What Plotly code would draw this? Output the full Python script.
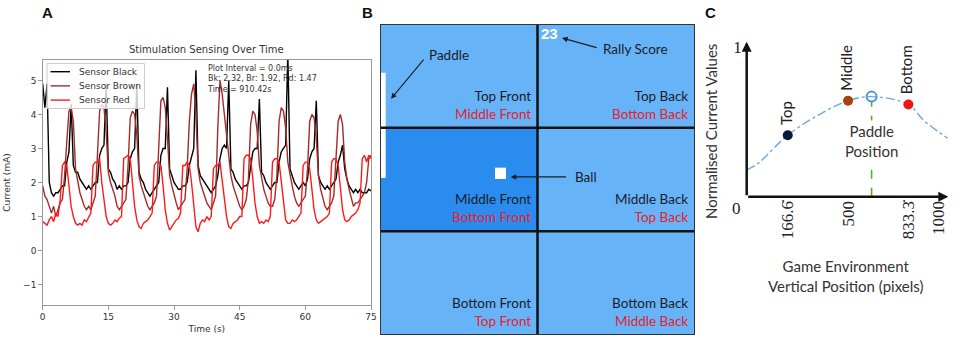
import plotly.graph_objects as go

# ---------------- Panel A data (0.5 s sampling) ----------------
sample_step = 0.5
time_s = [i * sample_step for i in range(151)]

sensor_black = [
    4.9, 4.2, 4.9, 2.0, 1.7, 1.6, 1.7,
    1.7, 1.8, 1.9, 1.9, 2.6, 2.9, 4.3, 2.5, 2.3, 2.3, 2.1, 2.0, 1.9, 1.8, 1.9,
    1.8, 1.9, 2.0, 2.0, 2.8, 3.0, 3.1, 4.9, 2.4, 2.3, 2.1, 2.0, 1.8, 1.9,
    1.8, 1.9, 1.9, 2.0, 2.7, 2.9, 3.0, 4.9, 2.3, 2.1, 2.0, 1.8, 1.7,
    1.6, 1.7, 1.8, 1.9, 2.0, 2.8, 3.0, 3.0, 4.8, 2.4, 2.2, 2.0, 1.9, 1.8,
    1.8, 1.9, 1.9, 2.0, 2.5, 2.8, 3.0, 5.3, 2.5, 2.2, 2.1, 2.0, 1.9, 1.8,
    1.7, 1.8, 1.9, 2.2, 2.7, 3.0, 3.1, 3.0, 5.0, 2.4, 2.3, 2.1, 2.0, 1.9,
    1.8, 1.9, 1.9, 2.0, 2.5, 2.9, 3.0, 3.0, 4.45, 2.3, 2.2, 2.0, 1.9,
    1.8, 1.9, 2.0, 2.0, 2.6, 2.9, 3.0, 3.1, 5.8, 2.4, 2.2, 2.0, 1.9,
    1.8, 1.9, 2.0, 1.9, 2.1, 2.7, 2.9, 3.0, 4.4, 2.2, 2.0, 1.9, 1.8,
    1.9, 1.8, 1.9, 2.0, 2.1, 2.6, 2.8, 3.1, 2.4, 2.1, 1.9, 1.8, 1.7, 1.8,
    1.7, 1.8, 1.7, 1.7, 1.7, 1.8, 1.75,
]
sensor_brown = [
    1.9, 1.6, 1.5, 1.3, 1.1, 1.3, 1.0,
    1.2, 1.4, 1.5, 2.2, 3.2, 4.1, 4.2, 3.8, 2.4, 2.0, 1.7, 1.5, 1.3, 1.2, 1.3,
    1.2, 1.4, 1.6, 2.8, 4.1, 4.3, 4.2, 3.5, 2.3, 2.0, 1.8, 1.6, 1.3, 1.2,
    1.3, 1.4, 1.5, 2.5, 3.9, 4.1, 4.0, 3.4, 2.2, 1.9, 1.7, 1.5, 1.3,
    1.2, 1.3, 1.4, 1.6, 2.9, 4.4, 4.5, 4.2, 3.3, 2.2, 1.9, 1.6, 1.4, 1.2,
    1.3, 1.4, 1.5, 2.4, 3.8, 4.6, 4.9, 4.0, 2.4, 2.0, 1.8, 1.6, 1.4, 1.3,
    1.2, 1.4, 1.6, 3.6, 5.0, 4.6, 4.0, 3.4, 2.6, 2.2, 1.9, 1.7, 1.5, 1.3,
    1.2, 1.3, 1.5, 2.1, 3.7, 4.1, 4.0, 3.5, 2.5, 2.1, 1.8, 1.6, 1.4,
    1.3, 1.3, 1.5, 2.2, 3.8, 4.2, 4.1, 3.6, 2.6, 2.2, 1.9, 1.6, 1.4,
    1.3, 1.4, 1.5, 1.6, 2.4, 3.8, 4.0, 3.9, 3.3, 2.2, 1.8, 1.5, 1.3,
    1.2, 1.3, 1.4, 1.6, 2.6, 3.8, 4.0, 3.7, 2.6, 2.1, 1.8, 1.5, 1.3, 1.4,
    1.4, 1.5, 1.6, 1.7, 2.0, 2.7, 2.8,
]
sensor_red = [
    0.85, 0.8, 0.75, 0.9, 1.0, 0.85, 1.1,
    1.0, 1.5, 2.5, 2.6, 2.5, 1.9, 1.3, 1.0, 0.8, 0.75, 0.8, 0.75, 0.9, 0.85, 1.0,
    1.1, 2.5, 2.6, 2.6, 2.7, 2.0, 1.4, 1.0, 0.8, 0.75, 0.8, 0.9, 0.85, 0.95,
    1.0, 2.7, 2.75, 2.8, 2.7, 2.0, 1.3, 0.9, 0.7, 0.65, 0.8, 0.85, 0.9,
    1.0, 1.1, 2.5, 2.6, 2.6, 2.5, 1.9, 1.2, 0.8, 0.6, 0.7, 0.8, 0.9, 0.95,
    1.1, 2.5, 2.5, 2.6, 2.5, 2.0, 1.3, 0.7, 0.55, 0.8, 0.9, 0.85, 1.0, 0.9,
    1.0, 2.4, 2.5, 2.5, 2.6, 2.0, 1.4, 1.0, 0.7, 0.65, 0.8, 0.85, 0.9, 1.0,
    1.0, 2.7, 2.8, 2.8, 2.7, 2.1, 1.4, 1.0, 0.8, 0.85, 0.8, 0.9, 0.85,
    1.0, 2.6, 2.7, 2.7, 2.6, 2.0, 1.3, 0.9, 0.8, 0.8, 0.9, 0.85, 0.9,
    1.0, 1.1, 2.5, 2.6, 2.6, 2.4, 1.8, 1.2, 0.9, 0.8, 0.85, 0.9, 0.95,
    1.0, 1.1, 2.6, 2.7, 2.7, 2.5, 1.8, 1.2, 0.9, 0.85, 0.9, 1.0, 1.05, 1.1,
    1.2, 1.4, 2.7, 2.8, 2.6, 2.8, 2.7,
]
series_names = ["Sensor Black", "Sensor Brown", "Sensor Red"]
series_colors = ["#000000", "#a52a2a", "#ff1a1a"]
a_xticks = [0, 15, 30, 45, 60, 75]
a_yticks = [-1, 0, 1, 2, 3, 4, 5]
info_lines = ["Plot Interval = 0.0ms", "Bk: 2.32, Br: 1.92, Rd: 1.47", "Time = 910.42s"]

# ---------------- Panel B data ----------------
row_names = ["Top", "Middle", "Bottom"]
col_names = ["Front", "Back"]
active_cell = [[0, 0], [1, 0], [0, 0]]
primary_labels = [["Top Front", "Top Back"],
                  ["Middle Front", "Middle Back"],
                  ["Bottom Front", "Bottom Back"]]
secondary_labels = [["Middle Front", "Bottom Back"],
                    ["Bottom Front", "Top Back"],
                    ["Top Front", "Middle Back"]]
rally_score = "23"
paddle_x = [0.006, 0.036]
paddle_y = [0.47, 1.485]
ball_x = [0.73, 0.80]
ball_y = [1.386, 1.495]

# ---------------- Panel C data ----------------
pos_names = ["Top", "Middle", "Bottom"]
pos_x = [166.6, 500, 833.3]
pos_y = [0.41, 0.64, 0.615]
pos_colors = ["#0b1a3c", "#a8420f", "#f21414"]
paddle_pos_x = 630
paddle_pos_y = 0.667
curve_x = [-60, 0, 166.6, 330, 500, 630, 833.3, 916, 999, 1050]
curve_y = [0.178, 0.22, 0.41, 0.54, 0.64, 0.667, 0.615, 0.511, 0.433, 0.39]
c_xtick_vals = [166.6, 500, 833.3, 1000]
c_xtick_text = ["166.6\u0307", "500", "833.3\u0307", "1000"]

W, H = 960, 347
def fx(p):
    return p / W
def fy(p):
    return 1 - p / H

fig = go.Figure()

# Panel A traces
for name, vals, col in zip(series_names, [sensor_black, sensor_brown, sensor_red], series_colors):
    fig.add_trace(go.Scatter(x=time_s, y=vals, mode="lines", name=name, showlegend=False,
                             line=dict(color=col, width=1.4), xaxis="x", yaxis="y"))

# Panel B heatmap
fig.add_trace(go.Heatmap(z=active_cell, x=[0.5, 1.5], y=[0.5, 1.5, 2.5],
                         colorscale=[[0, "#66b3f8"], [1, "#2b8cf0"]], zmin=0, zmax=1,
                         showscale=False, hoverinfo="skip", xaxis="x2", yaxis="y2"))

# Panel C traces
fig.add_trace(go.Scatter(x=curve_x, y=curve_y, mode="lines", line=dict(color="#6aaae6", width=1.4, dash="dashdot", shape="spline"),
                         showlegend=False, xaxis="x3", yaxis="y3"))
fig.add_trace(go.Scatter(x=[paddle_pos_x, paddle_pos_x], y=[0, paddle_pos_y - 0.03], mode="lines",
                         line=dict(color="#5aab2e", width=1.6, dash="dash"), showlegend=False, xaxis="x3", yaxis="y3"))
fig.add_trace(go.Scatter(x=pos_x, y=pos_y, mode="markers", marker=dict(color=pos_colors, size=10),
                         showlegend=False, xaxis="x3", yaxis="y3"))
fig.add_trace(go.Scatter(x=[paddle_pos_x], y=[paddle_pos_y], mode="markers",
                         marker=dict(symbol="circle-open", color="#4d94d8", size=10, line=dict(width=2)),
                         showlegend=False, xaxis="x3", yaxis="y3"))

c_xrange = [-60.3, 1054]
c_yrange = [0, 1.033]

ann = []
shapes = []

# Panel letters
for letter, px in zip(["A", "B", "C"], [47.5, 367, 710]):
    ann.append(dict(text="<b>%s</b>" % letter, x=fx(px), y=fy(12.5), xref="paper", yref="paper",
                    xanchor="center", yanchor="middle",
                    showarrow=False, font=dict(family="Liberation Sans", size=15, color="#111")))

# Panel A title and info
ann.append(dict(text="Stimulation Sensing Over Time", x=fx(206.8), y=fy(50), xref="paper", yref="paper",
                xanchor="center", yanchor="middle",
                showarrow=False, font=dict(family="DejaVu Sans", size=10, color="#333")))
ann.append(dict(text="<br>".join(info_lines), x=fx(205), y=fy(62), xref="paper", yref="paper",
                xanchor="left", yanchor="top", align="left", showarrow=False,
                font=dict(family="DejaVu Sans", size=8, color="#333")))

# Panel A legend (matplotlib style)
shapes.append(dict(type="rect", x0=fx(47), x1=fx(144.5), y0=fy(108.5), y1=fy(63.5), xref="paper", yref="paper",
                   fillcolor="rgba(255,255,255,0.8)", line=dict(color="#cccccc", width=1), layer="above"))
for k, (name, col) in enumerate(zip(series_names, series_colors)):
    ly = 71.7 + 14.2 * k
    shapes.append(dict(type="line", x0=fx(50.5), x1=fx(70), y0=fy(ly), y1=fy(ly), xref="paper", yref="paper",
                       line=dict(color=col, width=1.4), layer="above"))
    ann.append(dict(text=name, x=fx(76.5), y=fy(ly), xref="paper", yref="paper", xanchor="left", yanchor="middle",
                    showarrow=False, font=dict(family="DejaVu Sans", size=9, color="#333")))

# Panel B labels
for r in range(3):
    for c in range(2):
        ann.append(dict(text="%s<br><span style='color:#e8212b'>%s</span>" % (primary_labels[r][c], secondary_labels[r][c]),
                        x=c + 1 - 0.03, y=r + 1 - 0.04, xref="x2", yref="y2",
                        xanchor="right", yanchor="bottom", align="right", showarrow=False,
                        font=dict(family="Lato", size=13.5, color="#1c1c28")))
ann.append(dict(text="<b>%s</b>" % rally_score, x=1.01, y=0.087, xref="x2", yref="y2", xanchor="left",
                showarrow=False, font=dict(family="Liberation Sans", size=15, color="white")))
ann.append(dict(text="Rally Score", x=1.40, y=0.24, xref="x2", yref="y2", xanchor="left", showarrow=False,
                font=dict(family="Lato", size=13.5, color="#1c1c28")))
ann.append(dict(text="", x=1.156, y=0.135, ax=1.385, ay=0.232, xref="x2", yref="y2", axref="x2", ayref="y2",
                showarrow=True, arrowhead=2, arrowsize=1, arrowwidth=1.1, arrowcolor="#1c1c28"))
ann.append(dict(text="Paddle", x=0.296, y=0.30, xref="x2", yref="y2", xanchor="left", showarrow=False,
                font=dict(family="Lato", size=13.5, color="#1c1c28")))
ann.append(dict(text="", x=0.07, y=0.72, ax=0.285, ay=0.33, xref="x2", yref="y2", axref="x2", ayref="y2",
                showarrow=True, arrowhead=2, arrowsize=1, arrowwidth=1.1, arrowcolor="#1c1c28"))
ann.append(dict(text="Ball", x=1.228, y=1.475, xref="x2", yref="y2", xanchor="left", showarrow=False,
                font=dict(family="Lato", size=13.5, color="#1c1c28")))
ann.append(dict(text="", x=0.83, y=1.475, ax=1.19, ay=1.475, xref="x2", yref="y2", axref="x2", ayref="y2",
                showarrow=True, arrowhead=2, arrowsize=1, arrowwidth=1.1, arrowcolor="#1c1c28"))

# Panel B grid & objects
shapes.append(dict(type="rect", x0=paddle_x[0], x1=paddle_x[1], y0=paddle_y[0], y1=paddle_y[1],
                   xref="x2", yref="y2", fillcolor="white", line=dict(width=0)))
shapes.append(dict(type="rect", x0=ball_x[0], x1=ball_x[1], y0=ball_y[0], y1=ball_y[1],
                   xref="x2", yref="y2", fillcolor="white", line=dict(width=0)))
shapes.append(dict(type="line", x0=1, x1=1, y0=0, y1=3, xref="x2", yref="y2", line=dict(color="#111", width=2.5)))
for yb in [1, 2]:
    shapes.append(dict(type="line", x0=0, x1=2, y0=yb, y1=yb, xref="x2", yref="y2", line=dict(color="#111", width=2.5)))
shapes.append(dict(type="rect", x0=0, x1=2, y0=0, y1=3, xref="x2", yref="y2", line=dict(color="#333", width=2)))

# Panel C labels and arrows
for name, x, y in zip(pos_names, pos_x, pos_y):
    ann.append(dict(text=name, x=x, y=y, xref="x3", yref="y3", textangle=-90, yanchor="bottom", xanchor="center",
                    yshift=8, xshift=-2, showarrow=False, font=dict(family="Lato", size=15, color="#222")))
ann.append(dict(text="Paddle<br>Position", x=paddle_pos_x, y=0.368, xref="x3", yref="y3", showarrow=False,
                xanchor="center", yanchor="middle",
                bgcolor="white", font=dict(family="Lato", size=15, color="#333")))
ann.append(dict(text="", x=c_xrange[1], y=0, ax=c_xrange[0], ay=0, xref="x3", yref="y3", axref="x3", ayref="y3",
                showarrow=True, arrowhead=2, arrowsize=0.8, arrowwidth=2.5, arrowcolor="#111"))
ann.append(dict(text="", x=c_xrange[0], y=c_yrange[1], ax=c_xrange[0], ay=0, xref="x3", yref="y3", axref="x3", ayref="y3",
                showarrow=True, arrowhead=2, arrowsize=0.8, arrowwidth=2.5, arrowcolor="#111"))
ann.append(dict(text="0", x=c_xrange[0], y=0, xref="x3", yref="y3", xanchor="right", yanchor="top", xshift=-4,
                showarrow=False, font=dict(family="Liberation Serif", size=17, color="#222")))
ann.append(dict(text="Normalised Current Values", x=fx(711), y=fy(132), xref="paper", yref="paper", textangle=-90,
                xanchor="center", yanchor="middle",
                showarrow=False, font=dict(family="Lato", size=15, color="#333")))
ann.append(dict(text="Game Environment<br>Vertical Position (pixels)", x=fx(845), y=fy(276), xref="paper", yref="paper",
                xanchor="center", yanchor="middle",
                showarrow=False, font=dict(family="Lato", size=15, color="#333")))

axis_a = dict(showline=True, mirror=True, linecolor="#999", linewidth=1, ticks="outside", ticklen=3.5,
              tickcolor="#999", showgrid=False, zeroline=False, automargin=False,
              tickfont=dict(family="DejaVu Sans", size=9, color="#333"))

fig.update_layout(
    width=W, height=H, margin=dict(l=0, r=0, t=0, b=0, autoexpand=False),
    paper_bgcolor="white", plot_bgcolor="white", showlegend=False,
    xaxis=dict(domain=[fx(42.7), fx(371)], range=[0, 75], tickvals=a_xticks, anchor="y",
               title=dict(text="Time (s)", font=dict(family="DejaVu Sans", size=9, color="#333"), standoff=4), **axis_a),
    yaxis=dict(domain=[fy(305), fy(60)], range=[-1.6, 5.6], tickvals=a_yticks, anchor="x",
               ticktext=["\u22121", "0", "1", "2", "3", "4", "5"],
               title=dict(text="Current (mA)", font=dict(family="DejaVu Sans", size=9, color="#333"), standoff=10), **axis_a),
    xaxis2=dict(domain=[fx(380), fx(695)], range=[0, 2], visible=False, anchor="y2", automargin=False),
    yaxis2=dict(domain=[fy(335), fy(24)], range=[3, 0], visible=False, anchor="x2", automargin=False),
    xaxis3=dict(domain=[fx(746.7), fx(948.3)], range=c_xrange, anchor="y3", showline=False, showgrid=False,
                zeroline=False, tickvals=c_xtick_vals, ticktext=c_xtick_text, tickangle=-90, ticks="", automargin=False,
                tickfont=dict(family="Liberation Serif", size=17, color="#222")),
    yaxis3=dict(domain=[fy(196.7), fy(41.7)], range=c_yrange, anchor="x3", showline=False, showgrid=False,
                zeroline=False, tickvals=[1], ticktext=["1"], ticks="", automargin=False, ticklabelstandoff=4,
                tickfont=dict(family="Liberation Serif", size=17, color="#222")),
    annotations=ann, shapes=shapes,
)

fig.write_html("out.html")
